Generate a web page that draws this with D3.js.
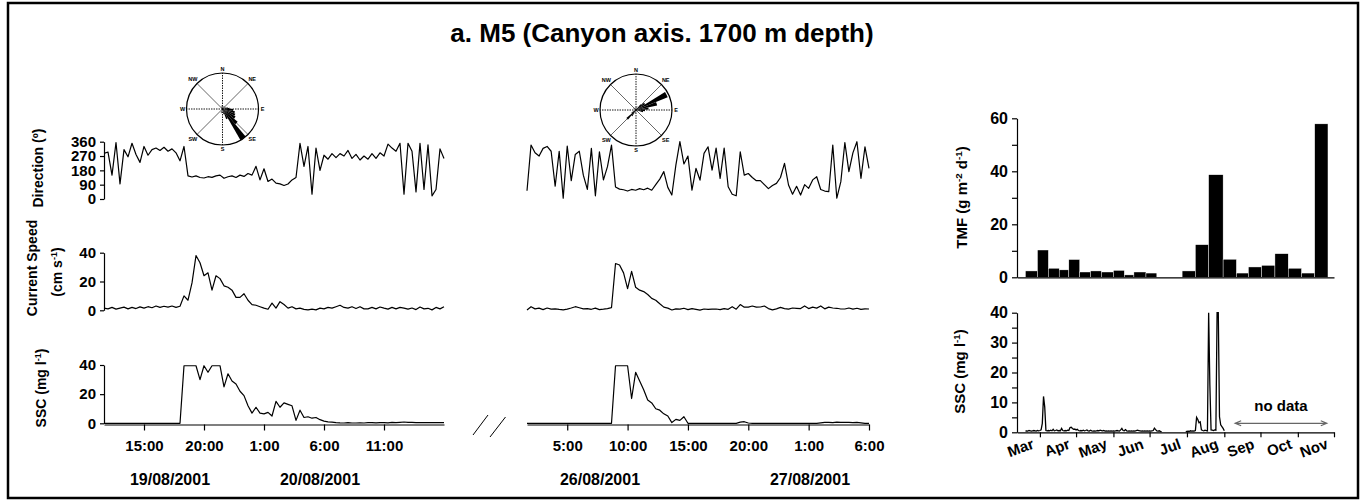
<!DOCTYPE html>
<html>
<head>
<meta charset="utf-8">
<script src="https://cdn.jsdelivr.net/npm/d3@7"></script>
<style>
  body { margin: 0; background: #fff; }
  svg { display: block; font-family: "Liberation Sans", Arial, Helvetica, sans-serif; font-weight: bold; }
</style>
</head>
<body>
<svg id="chart"></svg>
<script>
// ---- short records (20 min steps) ----
const stepMinutes = 20;
const leftStart = new Date(2001, 7, 19, 11, 40);
const rightStart = new Date(2001, 7, 26, 1, 40);

const dirLeft = [287, 295, 150, 355, 95, 310, 265, 350, 280, 230,
  330, 275, 310, 320, 305, 325, 300, 315, 290, 240,
  330, 145, 138, 145, 135, 132, 140, 136, 145, 150,
  130, 140, 145, 135, 150, 142, 160, 150, 205, 120,
  190, 110, 125, 100, 95, 85, 94, 120, 135, 350,
  205, 330, 30, 320, 180, 275, 250, 285, 260, 285,
  270, 305, 255, 280, 245, 270, 250, 285, 255, 290,
  270, 345, 320, 300, 350, 30, 350, 300, 45, 350,
  60, 340, 20, 60, 315, 255];
const speedLeft = [1.5, 1.0, 2.0, 0.8, 1.5, 2.2, 1.0, 2.0, 1.2, 2.4,
  1.5, 2.5, 1.8, 3.0, 2.0, 2.8, 2.2, 3.0, 2.0, 2.8,
  10, 7, 19, 38, 33, 24, 26, 14, 24, 22,
  17, 16, 14, 9, 9, 11.5, 7, 4, 3.5, 2.5,
  1.5, 0.7, 5, 1.5, 6, 4, 1.5, 2.5, 1.0, 1.5,
  0.6, 0.3, 0.8, 0.3, 1.5, 1.0, 2.0, 1.5, 2.5, 3.5,
  2.0, 1.5, 2.5, 1.2, 2.5, 1.0, 1.0, 2.0, 1.0, 2.3,
  1.5, 0.8, 2.0, 1.0, 2.0, 1.5, 0.8, 1.6, 0.5, 2.3,
  1.0, 1.4, 0.3, 2.0, 1.0, 2.5];
const sscLeft = [0, 0, 0, 0, 0, 0, 0, 0, 0, 0,
  0, 0, 0, 0, 0, 0, 0, 0, 0, 0,
  39.5, 39.5, 39.5, 39.5, 30, 39.5, 35, 39.5, 39.5, 39.5,
  25, 34, 29, 27, 22, 19, 12, 7, 11, 7,
  6.5, 7.5, 5, 15, 11, 14, 13, 12, 2, 9,
  4, 4.5, 3.5, 4, 2.5, 1.5, 1, 0.8, 0.5, 0.3,
  0.2, 0.4, 0.2, 0.2, 0.3, 0.2, 0.4, 0.5, 0.3, 0.4,
  0.5, 0.3, 0.6, 0.5, 0.7, 0.9, 0.6, 0.7, 0.5, 0.5,
  0.4, 0.5, 0.4, 0.4, 0.4, 0.4];

const dirRight = [52, 339, 290, 270, 318, 330, 300, 80, 300, 5,
  333, 115, 280, 300, 150, 60, 318, 20, 297, 120,
  203, 339, 75, 62, 58, 50, 60, 55, 65, 58,
  68, 55, 90, 125, 172, 73, 25, 213, 360, 220,
  270, 56, 192, 119, 287, 328, 182, 320, 130, 320,
  77, 30, 20, 297, 150, 160, 135, 115, 115, 90,
  65, 85, 98, 135, 224, 88, 30, 80, 25, 90,
  67, 120, 140, 60, 50, 46, 339, 5, 109, 355,
  172, 290, 360, 130, 328, 192];
const speedRight = [0.2, 2.5, 1.0, 1.5, 0.5, 1.6, 0.8, 1.0, 0.6, 0.3,
  0.8, 1.6, 2.5, 1.8, 1.0, 1.2, 0.7, 1.5, 0.5, 0.8,
  1.2, 1.8, 32.5, 31.5, 26, 15, 27, 16, 14, 13,
  11, 8.3, 7, 4.5, 2.2, 1.5, 0.2, 1.0, 0.8, 1.4,
  0.5, 1.2, 0.7, 0.1, 0.9, 0.7, 0.8, 0.9, 0.5, 1.2,
  0.7, 2.5, 0.8, 4.0, 2.2, 2.2, 3.0, 2.2, 2.3, 3.0,
  1.2, 0.3, 1.0, 2.0, 1.2, 0.8, 1.6, 1.4, 1.2, 3.0,
  1.2, 2.2, 1.5, 3.0, 1.0, 2.2, 1.6, 1.4, 0.9, 0.9,
  1.6, 0.8, 1.4, 0.6, 1.0, 0.9];
const sscRight = [0, 0, 0, 0, 0, 0, 0, 0, 0, 0,
  0, 0, 0, 0, 0, 0, 0, 0, 0, 0,
  0, 0, 39.5, 39.5, 39.5, 39.5, 17, 35, 29, 23,
  16, 14, 10, 9, 6.5, 5, 0.5, 2.7, 2, 4.5,
  0, 0, 0, 0, 0, 0, 0, 0, 0, 0,
  0, 0, 0, 0.8, 1.1, 0.2, 0, 0, 0, 0,
  0, 0, 0, 0, 0, 0, 0, 0, 0, 0,
  0, 0, 0, 0.3, 0.6, 0.7, 0.5, 0.8, 0.6, 0.6,
  0.7, 0.5, 0.6, 0.3, 0, 0];

const leftTimeTicks = [[19, 15], [19, 20], [20, 1], [20, 6], [20, 11]];
const rightTimeTicks = [[26, 5], [26, 10], [26, 15], [26, 20], [27, 1], [27, 6]];
const leftDates = ["19/08/2001", "20/08/2001"];
const rightDates = ["26/08/2001", "27/08/2001"];

// ---- wind roses: [bearing, fraction of radius] ----
const roseLeft = [[145, 1.0], [135, 0.55], [125, 0.42], [115, 0.38], [105, 0.35], [95, 0.3],
  [85, 0.2], [75, 0.15], [155, 0.3], [165, 0.15], [60, 0.1], [30, 0.1], [200, 0.12], [330, 0.08], [350, 0.1]];
const roseRight = [[63, 0.95], [73, 0.6], [83, 0.35], [93, 0.25], [53, 0.3], [43, 0.2], [103, 0.2],
  [225, 0.35], [215, 0.2], [235, 0.15], [245, 0.1], [195, 0.1], [300, 0.08], [340, 0.08], [20, 0.1]];
const compass = ["N", "NE", "E", "SE", "S", "SW", "W", "NW"];

// ---- trap fluxes (TMF) ----
const tmfStart = ["2001-03-20", "2001-03-30", "2001-04-08", "2001-04-17", "2001-04-25", "2001-05-04",
  "2001-05-13", "2001-05-22", "2001-06-01", "2001-06-10", "2001-06-18", "2001-06-28",
  "2001-07-28", "2001-08-08", "2001-08-19", "2001-08-31", "2001-09-11", "2001-09-21",
  "2001-10-02", "2001-10-13", "2001-10-24", "2001-11-04", "2001-11-15"];
const tmfEnd = ["2001-03-30", "2001-04-08", "2001-04-17", "2001-04-25", "2001-05-04", "2001-05-13",
  "2001-05-22", "2001-06-01", "2001-06-10", "2001-06-18", "2001-06-28", "2001-07-07",
  "2001-08-08", "2001-08-19", "2001-08-31", "2001-09-11", "2001-09-21", "2001-10-02",
  "2001-10-13", "2001-10-24", "2001-11-04", "2001-11-15", "2001-11-26"];
const tmfValue = [2.4, 10.3, 3.4, 2.8, 6.7, 2.0, 2.4, 2.0, 2.6, 0.9, 2.0, 1.6,
  2.4, 12.3, 38.7, 6.8, 1.6, 3.9, 4.5, 8.9, 3.4, 1.6, 57.9];

// ---- daily SSC, two stretches ----
const sscSpringStart = new Date(2001, 2, 20);
const sscSpring = [0.4, 0.5, 0.4, 0.6, 0.5, 0.4, 0.5, 0.6, 0.5, 0.4, 0.6, 0.5,
  0.6, 0.8, 3.0, 12.0, 8.5, 0.6, 0.5, 0.6, 0.5, 0.7, 0.5, 1.0, 0.5, 0.6, 0.8, 0.5, 0.6, 0.5, 1.3,
  0.6, 0.5, 0.6, 0.5, 0.7, 0.6, 1.6, 1.7, 1.3, 1.0, 1.1,
  0.8, 1.0, 0.6, 0.5, 0.6, 0.5, 0.7, 0.5, 0.6, 0.8, 0.5, 0.4, 0.7, 0.5, 0.4, 0.5, 0.4, 0.5,
  0.6, 0.5, 0.7, 0.6, 0.5, 0.6, 0.4, 0.5, 0.4, 0.5, 0.4, 0.5, 0.4,
  0.5, 0.4, 0.5, 0.6, 0.5, 0.4, 0.8, 1.3, 0.6, 0.5, 0.9, 0.5, 0.4, 0.5, 0.4, 0.5, 0.4, 0.5,
  0.4, 0.6, 0.7, 0.6, 0.5, 0.4, 0.5, 0.4, 0.5, 0.4, 0.5, 0.4,
  0.5, 0.4, 0.5, 0.6, 1.4, 0.9, 0.5, 0.4, 0.5, 0.3, 0.2];
const sscSummerStart = new Date(2001, 6, 31);
const sscSummer = [0.2, 0.3, 0.4, 0.3, 0.5, 0.4, 0.5, 0.4, 0.6, 5.0, 4.3, 3.2, 3.5, 0.8,
  0.6, 0.5, 0.7, 0.6, 0.5, 40, 16, 0.8, 0.7, 0.6, 0.8, 0.7, 40, 40, 5.2, 2.5, 1.9, 1.3, 0.5];
const monthLabels = ["Mar", "Apr", "May", "Jun", "Jul", "Aug", "Sep", "Oct", "Nov"];

// ---------------------------------------------------------------
const svg = d3.select("#chart").attr("width", 1367).attr("height", 504);
svg.append("rect").attr("width", 1367).attr("height", 504).attr("fill", "#fff");
svg.append("rect").attr("x", 8).attr("y", 3).attr("width", 1350).attr("height", 495)
  .attr("fill", "none").attr("stroke", "#000").attr("stroke-width", 2.5);

svg.append("text")
  .attr("x", 662).attr("y", 42)
  .attr("text-anchor", "middle")
  .style("font-size", "26px")
  .text("a.  M5 (Canyon axis. 1700 m depth)");

function styleAxis(g, size) {
  g.selectAll("path, line").attr("stroke", "#000").attr("stroke-width", 1.2);
  g.selectAll("text").attr("fill", "#000").style("font-size", size + "px").style("font-weight", "bold");
}

function vLabel(x, y, parts, size) {
  const t = svg.append("text")
    .attr("transform", `translate(${x},${y}) rotate(-90)`)
    .attr("text-anchor", "middle")
    .style("font-size", size + "px");
  parts.forEach(p => {
    const s = t.append("tspan").text(p[0]);
    if (p[1]) s.attr("baseline-shift", "super").style("font-size", (size * 0.65) + "px");
  });
}

// scales for the short records
const leftX = d3.scaleTime().domain([leftStart, new Date(2001, 7, 20, 16, 0)]).range([104, 444]);
const rightX = d3.scaleTime().domain([rightStart, new Date(2001, 7, 27, 6, 0)]).range([527, 869]);
const yDir = d3.scaleLinear().domain([0, 360]).range([199, 141.7]);
const ySpeed = d3.scaleLinear().domain([0, 40]).range([310.3, 252.7]);
const ySsc = d3.scaleLinear().domain([0, 40]).range([423.3, 365]);

const timeAt = (start, i) => new Date(start.getTime() + i * stepMinutes * 60000);

function drawSeries(values, start, x, y) {
  const line = d3.line()
    .x((d, i) => x(timeAt(start, i)))
    .y(d => y(d));
  svg.append("path")
    .datum(values)
    .attr("fill", "none")
    .attr("stroke", "#000")
    .attr("stroke-width", 1.2)
    .attr("stroke-linejoin", "round")
    .attr("d", line);
}

drawSeries(dirLeft, leftStart, leftX, yDir);
drawSeries(speedLeft, leftStart, leftX, ySpeed);
drawSeries(sscLeft, leftStart, leftX, ySsc);
drawSeries(dirRight, rightStart, rightX, yDir);
drawSeries(speedRight, rightStart, rightX, ySpeed);
drawSeries(sscRight, rightStart, rightX, ySsc);

// left y axes
[[yDir, [0, 90, 180, 270, 360]], [ySpeed, [0, 20, 40]], [ySsc, [0, 20, 40]]].forEach(([sc, tv]) => {
  svg.append("g")
    .attr("transform", "translate(104,0)")
    .call(d3.axisLeft(sc).tickValues(tv).tickSize(4).tickSizeOuter(0).tickPadding(4))
    .call(g => styleAxis(g, 15));
});

// time axes
const fmt = d3.timeFormat("%-H:%M");
svg.append("g")
  .attr("transform", "translate(0,424.5)")
  .call(d3.axisBottom(leftX)
    .tickValues(leftTimeTicks.map(t => new Date(2001, 7, t[0], t[1], 0)))
    .tickFormat(fmt).tickSize(6).tickSizeOuter(0).tickPadding(10))
  .call(g => styleAxis(g, 15));
svg.append("g")
  .attr("transform", "translate(0,424.5)")
  .call(d3.axisBottom(rightX)
    .tickValues(rightTimeTicks.map(t => new Date(2001, 7, t[0], t[1], 0)))
    .tickFormat(fmt).tickSize(6).tickSizeOuter(0).tickPadding(10))
  .call(g => styleAxis(g, 15));

// dates under the time axes
[[leftDates, [170, 320]], [rightDates, [600, 810]]].forEach(([labels, xs]) => {
  labels.forEach((l, i) => {
    svg.append("text").attr("x", xs[i]).attr("y", 485)
      .attr("text-anchor", "middle").style("font-size", "16px").text(l);
  });
});

// axis break marks
svg.append("line").attr("x1", 473).attr("y1", 435).attr("x2", 488).attr("y2", 415)
  .attr("stroke", "#000").attr("stroke-width", 1);
svg.append("line").attr("x1", 490).attr("y1", 437).attr("x2", 505.5).attr("y2", 417)
  .attr("stroke", "#000").attr("stroke-width", 1);

// left y labels
vLabel(43, 168, [["Direction (º)"]], 14);
vLabel(37, 268, [["Current Speed"]], 14);
vLabel(62, 272, [["(cm s"], ["-1", true], [")"]], 14);
vLabel(46, 388, [["SSC (mg l"], ["-1", true], [")"]], 14);

// ---- wind roses ----
function drawRose(cx, cy, r, petals) {
  const g = svg.append("g").attr("transform", `translate(${cx},${cy})`);
  g.append("circle").attr("r", r).attr("fill", "none").attr("stroke", "#000").attr("stroke-width", 1.2);
  compass.forEach((c, i) => {
    const a = i * 45 * Math.PI / 180;
    g.append("line")
      .attr("x1", 0).attr("y1", 0)
      .attr("x2", r * Math.sin(a)).attr("y2", -r * Math.cos(a))
      .attr("stroke", "#000")
      .attr("stroke-width", i % 2 === 0 ? 0.9 : 0.6)
      .attr("stroke-dasharray", i % 2 === 0 ? "1.5,1" : null);
    const lr = i % 2 === 0 ? r + 4 : r + 6;
    g.append("text")
      .attr("x", lr * Math.sin(a)).attr("y", -lr * Math.cos(a))
      .attr("text-anchor", "middle").attr("dy", "0.35em")
      .style("font-size", "5.5px").text(c);
  });
  const arc = d3.arc().innerRadius(0);
  g.selectAll("path.petal").data(petals).join("path")
    .attr("class", "petal")
    .attr("fill", "#000")
    .attr("d", d => arc({
      outerRadius: d[1] * r,
      startAngle: (d[0] - 5) * Math.PI / 180,
      endAngle: (d[0] + 5) * Math.PI / 180
    }));
}
drawRose(222.5, 109, 36, roseLeft);
drawRose(636, 110, 36, roseRight);

// ---- right column: TMF and long SSC ----
const monthX = d3.scaleTime().domain([new Date(2001, 2, 13), new Date(2001, 11, 1)]).range([1017, 1334]);
const yTmf = d3.scaleLinear().domain([0, 60]).range([277.3, 118.3]);
const ySscLong = d3.scaleLinear().domain([0, 40]).range([432.3, 312.7]).clamp(true);

const parse = d3.timeParse("%Y-%m-%d");
svg.append("g").selectAll("rect").data(tmfValue).join("rect")
  .attr("x", (d, i) => monthX(parse(tmfStart[i])))
  .attr("width", (d, i) => monthX(parse(tmfEnd[i])) - monthX(parse(tmfStart[i])))
  .attr("y", d => yTmf(d))
  .attr("height", d => yTmf(0) - yTmf(d))
  .attr("fill", "#000")
  .attr("stroke", "#fff")
  .attr("stroke-width", 0.4);

svg.append("g")
  .attr("transform", "translate(1017,0)")
  .call(d3.axisLeft(yTmf).tickValues(d3.range(0, 61, 10))
    .tickFormat(d => d % 20 === 0 ? d : "").tickSize(5).tickSizeOuter(0).tickPadding(4))
  .call(g => styleAxis(g, 16));
svg.append("g")
  .attr("transform", "translate(0,277.3)")
  .call(d3.axisBottom(monthX).tickValues([]).tickSizeOuter(0))
  .call(g => styleAxis(g, 14));

// long SSC
[[sscSpring, sscSpringStart], [sscSummer, sscSummerStart]].forEach(([vals, start]) => {
  svg.append("path")
    .datum(vals)
    .attr("fill", "none")
    .attr("stroke", "#000")
    .attr("stroke-width", 1.3)
    .attr("d", d3.line()
      .x((d, i) => monthX(d3.timeDay.offset(start, i)))
      .y(d => ySscLong(d)));
});

svg.append("g")
  .attr("transform", "translate(1017,0)")
  .call(d3.axisLeft(ySscLong).tickValues(d3.range(0, 41, 5))
    .tickFormat(d => d % 10 === 0 ? d : "").tickSize(5).tickSizeOuter(0).tickPadding(4))
  .call(g => styleAxis(g, 16));
svg.append("g")
  .attr("transform", "translate(0,432.3)")
  .call(d3.axisBottom(monthX).ticks(d3.timeMonth.every(1)).tickFormat("").tickSize(5).tickSizeOuter(0))
  .call(g => styleAxis(g, 14));

monthLabels.forEach((m, i) => {
  const px = monthX(new Date(2001, 3 + i, 1)) - 5;
  svg.append("text")
    .attr("transform", `translate(${px},448) rotate(-20)`)
    .attr("text-anchor", "end")
    .style("font-size", "15px")
    .text(m);
});

// no data arrow
const arrowY = 423.3, ax1 = monthX(new Date(2001, 8, 10)), ax2 = monthX(new Date(2001, 10, 25));
svg.append("path")
  .attr("d", `M${ax1},${arrowY}H${ax2}M${ax1 + 6},${arrowY - 2.5}L${ax1},${arrowY}L${ax1 + 6},${arrowY + 2.5}` +
    `M${ax2 - 6},${arrowY - 2.5}L${ax2},${arrowY}L${ax2 - 6},${arrowY + 2.5}`)
  .attr("fill", "none").attr("stroke", "#666").attr("stroke-width", 1.2);
svg.append("text").attr("x", (ax1 + ax2) / 2).attr("y", 411)
  .attr("text-anchor", "middle").style("font-size", "15px").text("no data");

vLabel(967, 197.5, [["TMF (g m"], ["-2", true], [" d"], ["-1", true], [")"]], 15);
vLabel(965, 371.5, [["SSC (mg l"], ["-1", true], [")"]], 15);
</script>
</body>
</html>
